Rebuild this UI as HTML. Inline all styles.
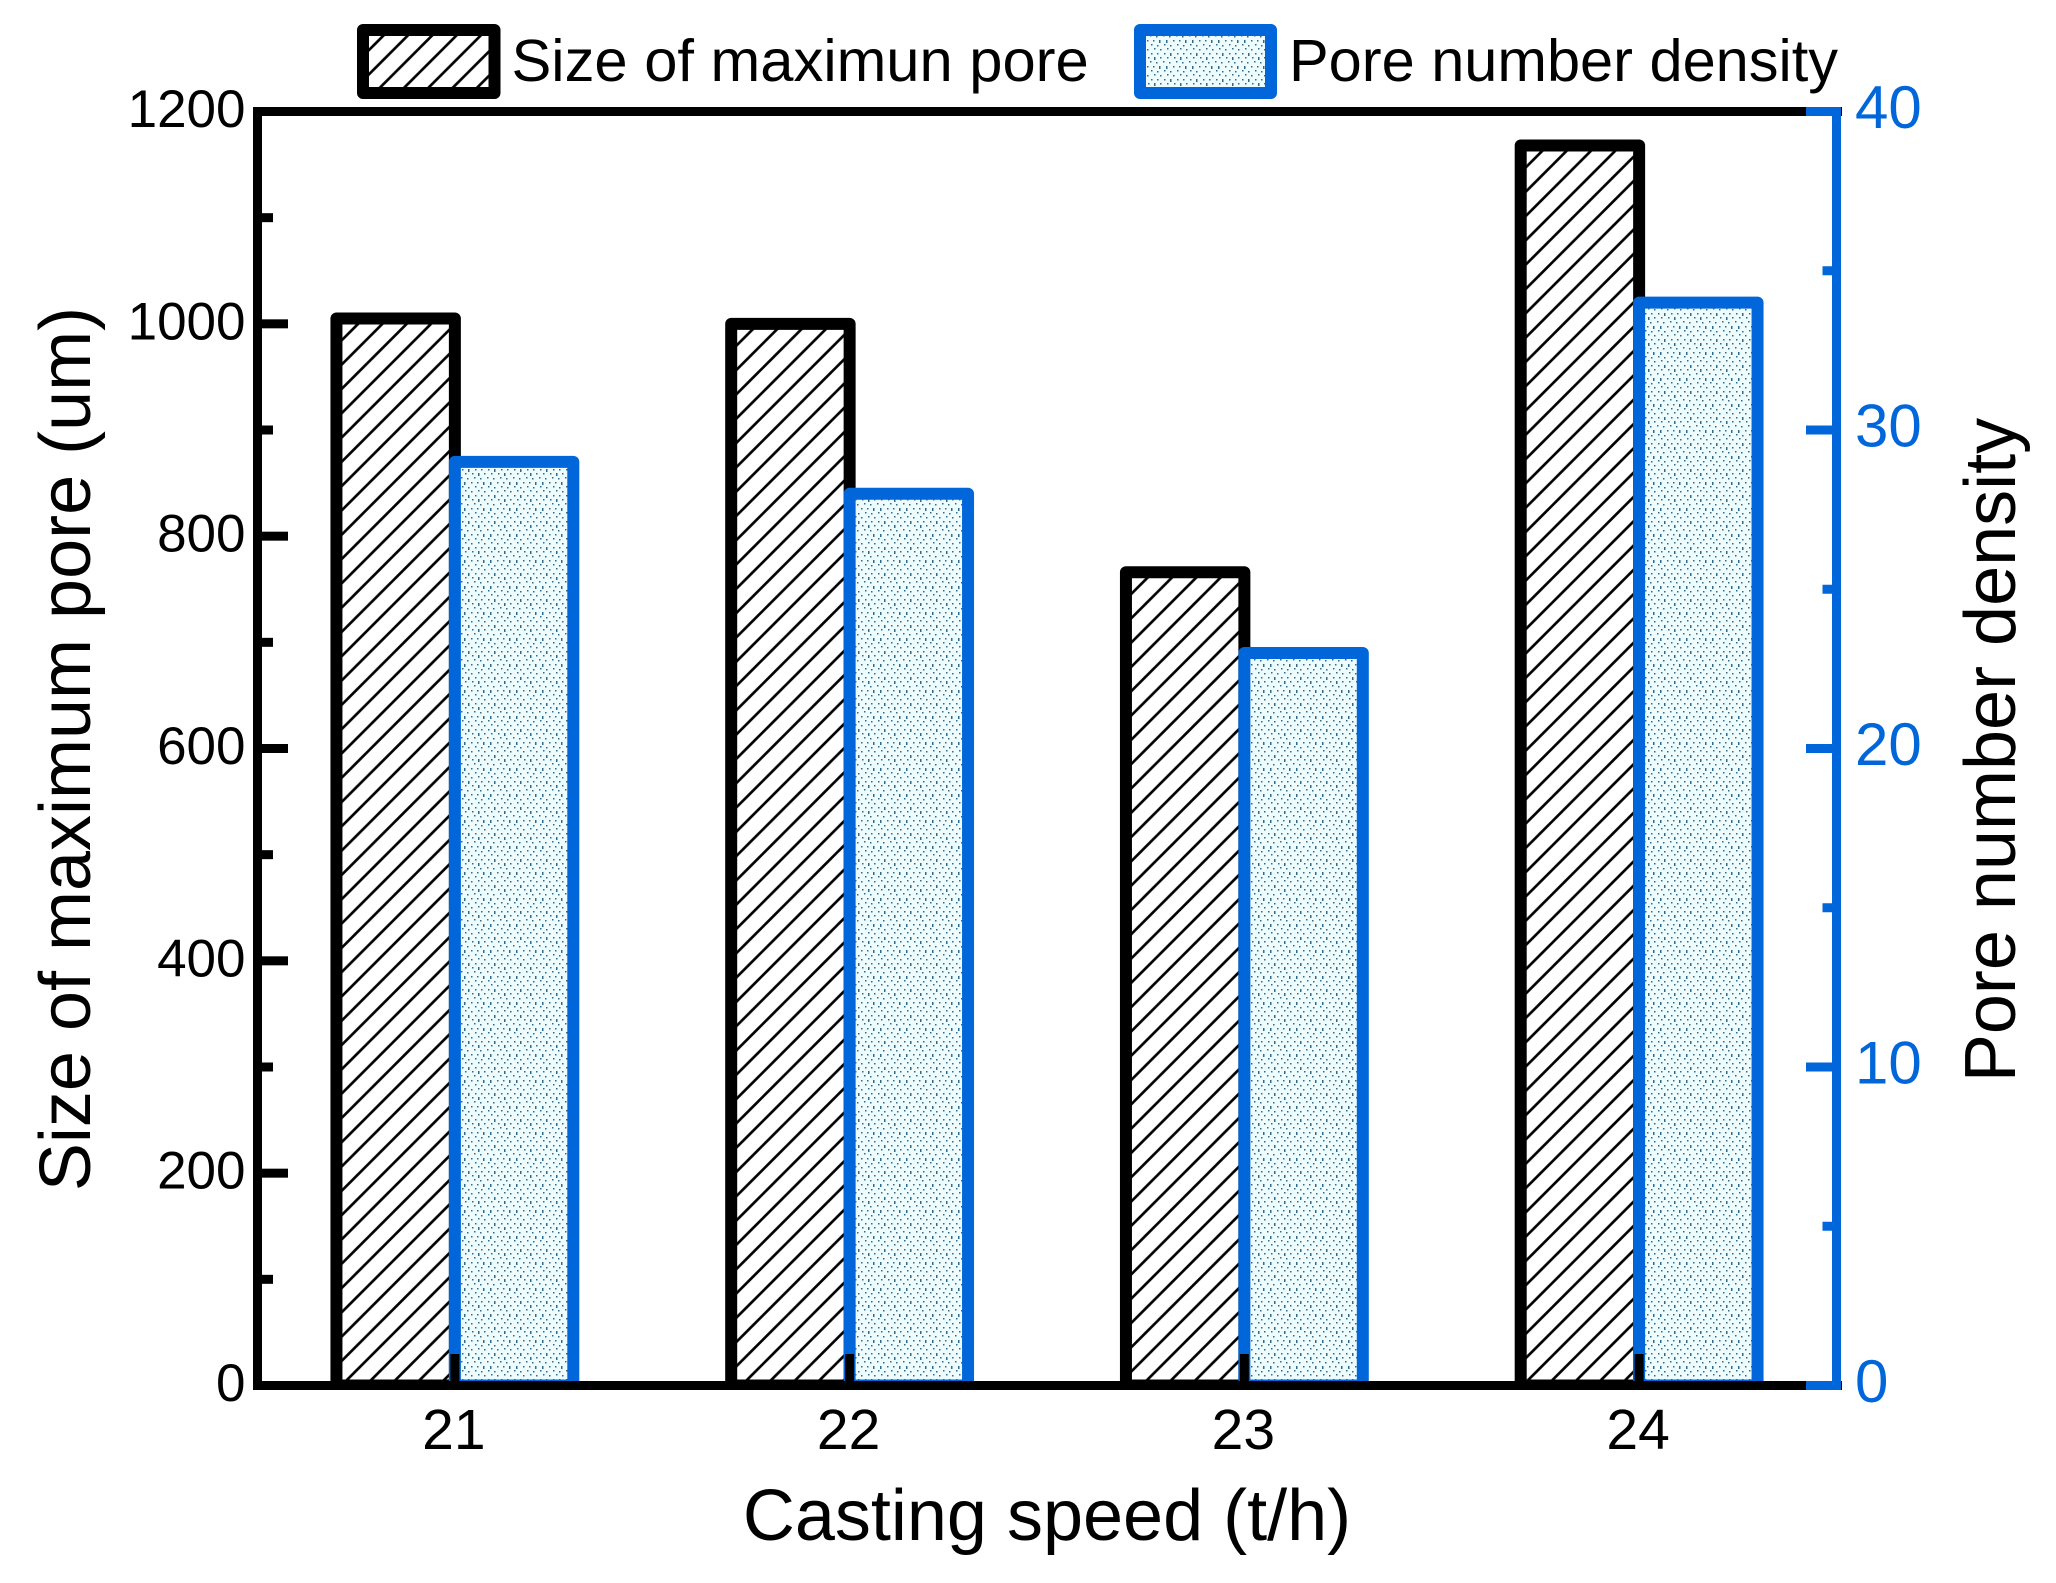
<!DOCTYPE html>
<html lang="en">
<head>
<meta charset="utf-8">
<title>Pore size and number density vs casting speed</title>
<style>
html,body{margin:0;padding:0;background:#fff;}
svg{display:block;font-family:"Liberation Sans",Arial,sans-serif;}
</style>
</head>
<body>
<svg id="chart" xmlns="http://www.w3.org/2000/svg" width="2056" height="1583" viewBox="0 0 2056 1583">
  <defs>
    <clipPath id="plotClip"><rect x="0" y="0" width="2056" height="1390"/></clipPath>
    <pattern id="dots" patternUnits="userSpaceOnUse" width="26" height="26" patternTransform="translate(460 468)">
      <rect width="26" height="26" fill="#eefcfe"/>
      <path shape-rendering="crispEdges" fill="#2d6a90" d="M2 1h1.5v1.5h-1.5zM8 1h1.5v3h-1.5zM15 1h1.5v1.5h-1.5zM21 1h1.5v1.5h-1.5zM5 5h1.5v1.5h-1.5zM12 5h1.5v1.5h-1.5zM18 5h1.5v3h-1.5zM24 5h1.5v1.5h-1.5zM1 9h1.5v1.5h-1.5zM7 10h1.5v1.5h-1.5zM14 9h1.5v1.5h-1.5zM20 10h1.5v1.5h-1.5zM4 14h1.5v3h-1.5zM11 14h1.5v1.5h-1.5zM17 14h1.5v1.5h-1.5zM23 14h1.5v3h-1.5zM2 18h1.5v1.5h-1.5zM8 19h1.5v1.5h-1.5zM15 18h1.5v1.5h-1.5zM21 19h1.5v1.5h-1.5zM5 22h1.5v1.5h-1.5zM11 23h1.5v1.5h-1.5zM18 22h1.5v1.5h-1.5zM24 23h1.5v1.5h-1.5z"/>
    </pattern>
  </defs>
  <g id="plot"></g>

  <g>
    <g>
      <rect id="legendHatch" x="363" y="30" width="131.5" height="63" fill="#fff" stroke="#000" stroke-width="12" stroke-linejoin="round"/>
      <text x="511.5" y="81" font-size="59.7" fill="#000">Size of maximun pore</text>
    </g>
    <g>
      <rect x="1140" y="30" width="131" height="63" fill="url(#dots)" stroke="#0066d9" stroke-width="12" stroke-linejoin="round"/>
      <text x="1289" y="81" font-size="59.5" fill="#000">Pore number density</text>
    </g>
  </g>

  <text x="1047" y="1540" font-size="72" text-anchor="middle" fill="#000">Casting speed (t/h)</text>
  <text transform="translate(90 749) rotate(-90)" font-size="72" text-anchor="middle" fill="#000">Size of maximum pore (um)</text>
  <text transform="translate(2015 750) rotate(-90)" font-size="72" text-anchor="middle" fill="#000">Pore number density</text>
</svg>

<script>
const categories = [21, 22, 23, 24];
const poreSize = [1005, 1000, 766, 1168];
const poreDensity = [29, 28, 23, 34];
const leftMajorTicks = [0, 200, 400, 600, 800, 1000, 1200];
const leftMinorTicks = [100, 300, 500, 700, 900, 1100];
const rightMajorTicks = [0, 10, 20, 30, 40];
const rightMinorTicks = [5, 15, 25, 35];

const SVG_NS = 'http://www.w3.org/2000/svg';
const BLUE = '#0066d9';
const chart = document.getElementById('chart');
const plot = document.getElementById('plot');
const defs = chart.querySelector('defs');

const xMin = 20.5, xMax = 24.5, leftMax = 1200, rightMax = 40;
const plotLeft = 257.5, plotRight = 1836.5, plotTop = 111.5, plotBottom = 1385.5;
const barWidthUnits = 0.3;

function xScale(v) { return plotLeft + (v - xMin) / (xMax - xMin) * (plotRight - plotLeft); }
function yLeft(v) { return plotBottom - v / leftMax * (plotBottom - plotTop); }
function yRight(v) { return plotBottom - v / rightMax * (plotBottom - plotTop); }

function make(tag, parent, attrs) {
  const el = document.createElementNS(SVG_NS, tag);
  for (const k in attrs) el.setAttribute(k, attrs[k]);
  (parent || plot).appendChild(el);
  return el;
}

function hatchPattern(id, x0, y0) {
  const P = 24.3;
  const p = make('pattern', defs, { id: id, patternUnits: 'userSpaceOnUse', width: P, height: P,
    patternTransform: 'translate(' + x0 + ' ' + y0 + ')' });
  make('rect', p, { width: P, height: P, fill: '#fff' });
  make('line', p, { x1: -5, y1: 20, x2: 20, y2: -5, stroke: '#000', 'stroke-width': 2.7 });
  make('line', p, { x1: 10, y1: 29.3, x2: 29.3, y2: 10, stroke: '#000', 'stroke-width': 2.7 });
  return 'url(#' + id + ')';
}

document.getElementById('legendHatch').setAttribute('fill', hatchPattern('hatch-legend', 369, 35));

const barWidth = barWidthUnits * (xScale(1) - xScale(0));

const barsGroup = make('g', plot, { 'clip-path': 'url(#plotClip)' });



categories.forEach(function (cat, i) {
  const right = xScale(cat);
  const top = yLeft(poreSize[i]);
  const fill = hatchPattern('hatch-' + cat, right - barWidth + 6, top + 6);
  const bar = make('rect', barsGroup, { x: right - barWidth, y: top, width: barWidth, height: plotBottom - top,
    fill: fill, stroke: '#000', 'stroke-width': 12, 'stroke-linejoin': 'round' });
  
  
});

categories.forEach(function (cat, i) {
  const left = xScale(cat);
  const top = yRight(poreDensity[i]);
  const bar = make('rect', barsGroup, { x: left, y: top, width: barWidth, height: plotBottom - top,
    fill: 'url(#dots)', stroke: BLUE, 'stroke-width': 12, 'stroke-linejoin': 'round' });
  
  
});

const leftSpine = make('rect', plot, { x: 253, y: 107, width: 9, height: 1283, fill: '#000' });



const topSpine = make('rect', plot, { x: 253, y: 107, width: 1589, height: 9, fill: '#000' });



const bottomSpine = make('rect', plot, { x: 253, y: 1381, width: 1589, height: 9, fill: '#000' });



const rightSpine = make('rect', plot, { x: 1832, y: 107, width: 9, height: 1283, fill: BLUE });



categories.forEach(function (cat) {
  const cx = xScale(cat);
  const tick = make('rect', plot, { x: cx - 4.5, y: 1354, width: 9, height: 27, fill: '#000' });
  
  
  const label = make('text', plot, { x: cx - 1, y: 1449, 'font-size': 57, 'text-anchor': 'middle', fill: '#000' });
  label.textContent = String(cat);
  
  
});

leftMajorTicks.forEach(function (v) {
  const y = yLeft(v);
  const tick = make('rect', plot, { x: 262, y: y - 4.5, width: 26, height: 9, fill: '#000' });
  
  
  const label = make('text', plot, { x: 245.5, y: y + 15.5, 'font-size': 53, 'text-anchor': 'end', fill: '#000' });
  label.textContent = String(v);
  
  
});

leftMinorTicks.forEach(function (v) {
  const tick = make('rect', plot, { x: 262, y: yLeft(v) - 4.5, width: 11, height: 9, fill: '#000' });
  
  
});

rightMajorTicks.forEach(function (v) {
  const y = yRight(v);
  const tick = make('rect', plot, { x: 1806, y: y - 4.5, width: 26, height: 9, fill: BLUE });
  
  
  const label = make('text', plot, { x: 1855, y: y + 16.5, 'font-size': 60, 'text-anchor': 'start', fill: BLUE });
  label.textContent = String(v);
  
  
});

rightMinorTicks.forEach(function (v) {
  const tick = make('rect', plot, { x: 1822.5, y: yRight(v) - 4.5, width: 9.5, height: 9, fill: BLUE });
  
  
});
</script>
</body>
</html>
